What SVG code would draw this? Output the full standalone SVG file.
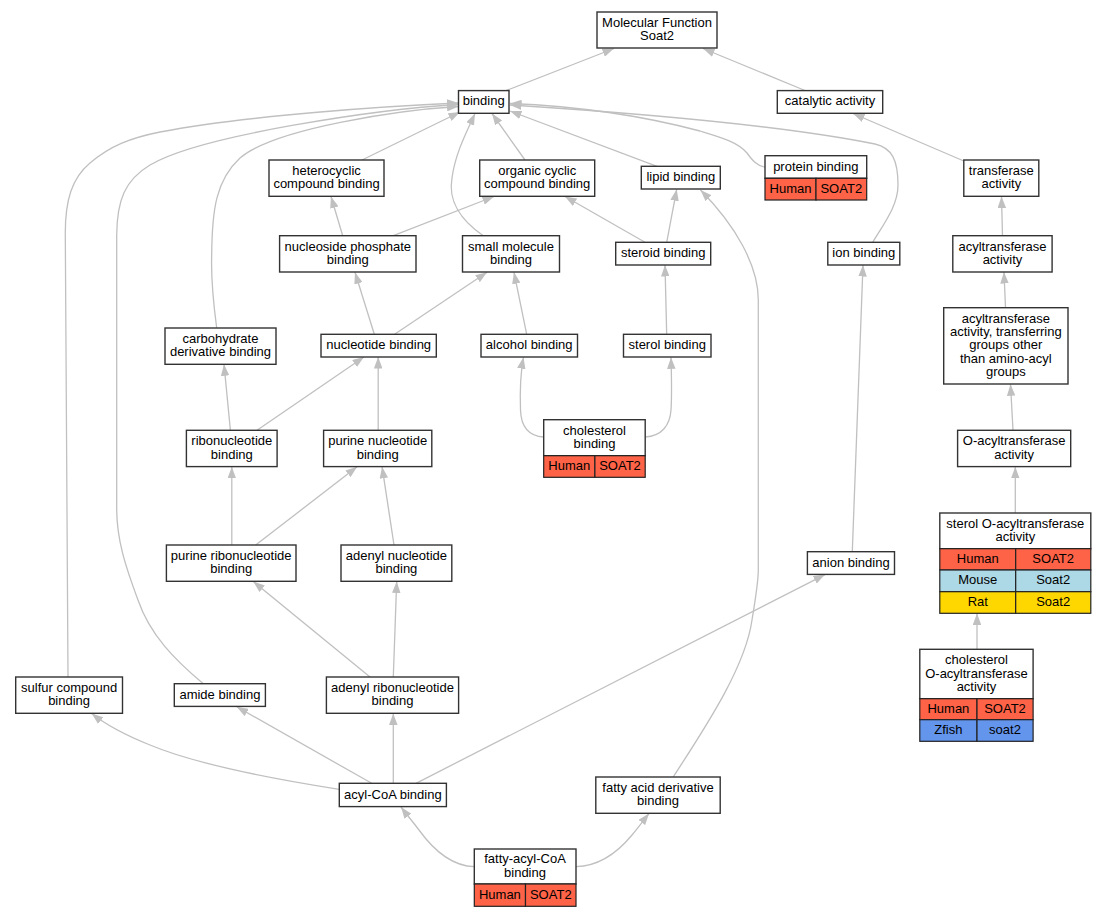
<svg xmlns="http://www.w3.org/2000/svg" width="1107" height="917" viewBox="0 0 1107 917">
<style>
text{font-family:"Liberation Sans",Arial,sans-serif;font-size:13px;text-anchor:middle;fill:#000}
.n rect{fill:#fff;stroke:#333;stroke-width:1.4}
.n rect.hu{fill:#ff6347;stroke:#222;stroke-width:1.2}
.n rect.mo{fill:#add8e6;stroke:#222;stroke-width:1.2}
.n rect.ra{fill:#ffd700;stroke:#222;stroke-width:1.2}
.n rect.zf{fill:#6495ed;stroke:#222;stroke-width:1.2}
#edges path{fill:none;stroke:#c0c0c0;stroke-width:1.3;marker-end:url(#arr)}
</style>
<defs>
<marker id="arr" viewBox="0 0 11.5 8.5" refX="11.5" refY="4.25" markerWidth="11.5" markerHeight="8.5" markerUnits="userSpaceOnUse" orient="auto">
<path d="M0,0 L11.5,4.25 L0,8.5 z" fill="#c0c0c0"/>
</marker>
</defs>
<rect width="1107" height="917" fill="#fff"/>
<g id="edges">
<path d="M505,91 L614,48.5"/>
<path d="M805,90.5 L703,48.5"/>
<path d="M362,160 L460,112"/>
<path d="M525,160 L492,113.5"/>
<path d="M657,166.3 L510,111"/>
<path d="M483.3,235.7 C460,220 448,200 452,178 C455,155 465,135 475,113.5"/>
<path d="M765,167 C757,166 752,160 747,153 C738,142 720,137 700,131 C640,115 570,106 510,103.5"/>
<path d="M872.7,242.3 C885,222 898,205 898,185 C898,160 892,148 875,144 C780,125 620,112 510,105"/>
<path d="M216.7,328 C213,300 211,275 211.7,255 C212,210 216,180 240,158 C275,128 400,110 458.5,106.5"/>
<path d="M203.3,683.7 C175,660 150,635 138,600 C125,565 117,540 116.7,510 L116.7,235 C117,200 125,180 150,165 C200,135 380,109 458.5,104.5"/>
<path d="M68,677 L65.3,235 C65,200 72,178 90,163 C110,146 130,138 160,132 C250,115 390,106 458.5,103"/>
<path d="M342.7,235.7 L331,196.5"/>
<path d="M393.3,235.7 L494,196.5"/>
<path d="M645,242.3 L565,196.5"/>
<path d="M666.7,242.3 L676.7,189.3"/>
<path d="M673.3,777 C700,735 745,670 752,620 C757,590 758.3,580 758.3,570 L758.3,300 C758.3,265 735,225 700.5,190"/>
<path d="M963.8,161 L853,113.5"/>
<path d="M1002.5,235.7 L1001.5,196.5"/>
<path d="M1005.5,307.7 L1004,272"/>
<path d="M1013,430.3 L1010.5,384.3"/>
<path d="M1015.3,513 L1015.3,466.8"/>
<path d="M977,649.3 L977,613.5"/>
<path d="M374.3,334.3 L355,272.3"/>
<path d="M394.6,334.3 L487,272.3"/>
<path d="M526.7,334.3 L514,272.3"/>
<path d="M666.7,334.3 L665,265"/>
<path d="M230.4,430.3 L224,364.3"/>
<path d="M257,430.3 L364,357"/>
<path d="M378.2,430.3 L378.2,357"/>
<path d="M543.7,437 C527,436 521,425 520.5,410 C520,395 520,375 523.5,357.3"/>
<path d="M645.2,437 C662,436 670,425 671,410 C672,395 671.5,375 671,357.3"/>
<path d="M231.8,545 L231.8,466.8"/>
<path d="M255.7,545 L357.1,466.8"/>
<path d="M394,545 L382.1,466.8"/>
<path d="M852.3,551.7 L863,265"/>
<path d="M370,677 L253.3,581.5"/>
<path d="M393.3,677 L396.7,581.5"/>
<path d="M339.3,789.3 C280,780 200,766 150,745 C125,735 105,724 91.7,713.5"/>
<path d="M371.7,783.3 L236.7,706.8"/>
<path d="M393.3,783.3 L393.3,713.5"/>
<path d="M416,783.3 L825,574.6"/>
<path d="M474.3,866.7 C450,866 432,848 419,830 C413,822 407,815 401,807"/>
<path d="M576,866.7 C600,866 618,852 632,835 C638,828 643,821 649,813.5"/>
</g>
<g id="mf" class="n"><rect x="597" y="12" width="120" height="36"/><text x="657" y="26.9">Molecular Function</text><text x="657" y="40.2">Soat2</text></g>
<g id="binding" class="n"><rect x="458.5" y="90.6" width="50.5" height="22.7"/><text x="483.7" y="105.4">binding</text></g>
<g id="catalytic" class="n"><rect x="777.3" y="90.6" width="105.4" height="22.7"/><text x="830" y="105.4">catalytic activity</text></g>
<g id="heterocyclic" class="n"><rect x="269" y="160" width="115" height="36.3"/><text x="326.5" y="175">heterocyclic</text><text x="326.5" y="188.3">compound binding</text></g>
<g id="organic" class="n"><rect x="479.7" y="160" width="115" height="36.3"/><text x="537.2" y="175">organic cyclic</text><text x="537.2" y="188.3">compound binding</text></g>
<g id="lipid" class="n"><rect x="641.3" y="166.3" width="79" height="22.7"/><text x="680.8" y="181.2">lipid binding</text></g>
<g id="protein" class="n"><rect x="765" y="155.7" width="101.7" height="22.6"/><rect class="hu" x="765" y="178.3" width="51" height="21.7"/><rect class="hu" x="816" y="178.3" width="50.7" height="21.7"/><text x="815.8" y="170.5">protein binding</text><text x="790.5" y="192.7">Human</text><text x="841.3" y="192.7">SOAT2</text></g>
<g id="transferase" class="n"><rect x="963.8" y="160" width="75" height="36.3"/><text x="1001.3" y="175">transferase</text><text x="1001.3" y="188.3">activity</text></g>
<g id="nucleoside" class="n"><rect x="279.6" y="235.7" width="136.4" height="36.3"/><text x="347.8" y="250.7">nucleoside phosphate</text><text x="347.8" y="264">binding</text></g>
<g id="smallmol" class="n"><rect x="462.5" y="235.7" width="97" height="36.3"/><text x="511" y="250.7">small molecule</text><text x="511" y="264">binding</text></g>
<g id="steroid" class="n"><rect x="615.7" y="242.3" width="95" height="22.7"/><text x="663.2" y="257.1">steroid binding</text></g>
<g id="ion" class="n"><rect x="827.8" y="242.3" width="72" height="22.7"/><text x="863.8" y="257.1">ion binding</text></g>
<g id="acyltransferase" class="n"><rect x="952.8" y="235.7" width="99.3" height="36.3"/><text x="1002.5" y="250.7">acyltransferase</text><text x="1002.5" y="264">activity</text></g>
<g id="acylother" class="n"><rect x="943.7" y="307.7" width="124.3" height="76.3"/><text x="1005.8" y="322.7">acyltransferase</text><text x="1005.8" y="336">activity, transferring</text><text x="1005.8" y="349.3">groups other</text><text x="1005.8" y="362.6">than amino-acyl</text><text x="1005.8" y="375.9">groups</text></g>
<g id="carbohydrate" class="n"><rect x="165" y="328" width="111" height="36.3"/><text x="220.5" y="343">carbohydrate</text><text x="220.5" y="356.3">derivative binding</text></g>
<g id="nucleotide" class="n"><rect x="321" y="334.3" width="115.3" height="22.7"/><text x="378.7" y="349.2">nucleotide binding</text></g>
<g id="alcohol" class="n"><rect x="481" y="334.3" width="96.5" height="22.7"/><text x="529.2" y="349.2">alcohol binding</text></g>
<g id="sterol" class="n"><rect x="623.5" y="334.3" width="87.5" height="22.7"/><text x="667.2" y="349.2">sterol binding</text></g>
<g id="ribonucleotide" class="n"><rect x="186.4" y="430.3" width="90.7" height="36.3"/><text x="231.8" y="445.3">ribonucleotide</text><text x="231.8" y="458.6">binding</text></g>
<g id="purinenucl" class="n"><rect x="323.6" y="430.3" width="108.2" height="36.3"/><text x="377.7" y="445.3">purine nucleotide</text><text x="377.7" y="458.6">binding</text></g>
<g id="cholesterol" class="n"><rect x="543.7" y="419.7" width="101.5" height="36"/><rect class="hu" x="543.7" y="455.7" width="51.2" height="21.6"/><rect class="hu" x="594.9" y="455.7" width="50.3" height="21.6"/><text x="594.5" y="434.5">cholesterol</text><text x="594.5" y="447.8">binding</text><text x="569.3" y="470">Human</text><text x="620" y="470">SOAT2</text></g>
<g id="oacyl" class="n"><rect x="957.6" y="430.3" width="113.1" height="36.3"/><text x="1014.1" y="445.3">O-acyltransferase</text><text x="1014.1" y="458.6">activity</text></g>
<g id="purineribo" class="n"><rect x="166.4" y="545" width="129.6" height="36.3"/><text x="231.2" y="560">purine ribonucleotide</text><text x="231.2" y="573.3">binding</text></g>
<g id="adenylnucl" class="n"><rect x="341" y="545" width="110.8" height="36.3"/><text x="396.4" y="560">adenyl nucleotide</text><text x="396.4" y="573.3">binding</text></g>
<g id="anion" class="n"><rect x="807.4" y="551.7" width="87.1" height="22.7"/><text x="851" y="566.5">anion binding</text></g>
<g id="steroloacyl" class="n"><rect x="939.8" y="513" width="151" height="35.7"/><rect class="hu" x="939.8" y="548.7" width="75.9" height="21.3"/><rect class="hu" x="1015.7" y="548.7" width="75.1" height="21.3"/><rect class="mo" x="939.8" y="570" width="75.9" height="21.7"/><rect class="mo" x="1015.7" y="570" width="75.1" height="21.7"/><rect class="ra" x="939.8" y="591.7" width="75.9" height="21.6"/><rect class="ra" x="1015.7" y="591.7" width="75.1" height="21.6"/><text x="1015.3" y="527.7">sterol O-acyltransferase</text><text x="1015.3" y="541">activity</text><text x="977.8" y="562.9">Human</text><text x="1053.2" y="562.9">SOAT2</text><text x="977.8" y="584.4">Mouse</text><text x="1053.2" y="584.4">Soat2</text><text x="977.8" y="606">Rat</text><text x="1053.2" y="606">Soat2</text></g>
<g id="choloacyl" class="n"><rect x="919.8" y="649.3" width="113.3" height="49.4"/><rect class="hu" x="919.8" y="698.7" width="57.2" height="21"/><rect class="hu" x="977" y="698.7" width="56.1" height="21"/><rect class="zf" x="919.8" y="719.7" width="57.2" height="21.6"/><rect class="zf" x="977" y="719.7" width="56.1" height="21.6"/><text x="976.5" y="664.2">cholesterol</text><text x="976.5" y="677.5">O-acyltransferase</text><text x="976.5" y="690.8">activity</text><text x="948.4" y="712.7">Human</text><text x="1005" y="712.7">SOAT2</text><text x="948.4" y="734">Zfish</text><text x="1005" y="734">soat2</text></g>
<g id="sulfur" class="n"><rect x="15.7" y="677" width="106.8" height="36.3"/><text x="69.1" y="692">sulfur compound</text><text x="69.1" y="705.3">binding</text></g>
<g id="amide" class="n"><rect x="174.3" y="683.7" width="91.1" height="22.7"/><text x="219.9" y="698.5">amide binding</text></g>
<g id="adenylribo" class="n"><rect x="326.4" y="677" width="132.2" height="36.3"/><text x="392.5" y="692">adenyl ribonucleotide</text><text x="392.5" y="705.3">binding</text></g>
<g id="acylcoa" class="n"><rect x="339.3" y="783.3" width="107.1" height="23.3"/><text x="392.9" y="798.5">acyl-CoA binding</text></g>
<g id="fattyacid" class="n"><rect x="595.8" y="777" width="124.4" height="36.3"/><text x="658" y="792">fatty acid derivative</text><text x="658" y="805.3">binding</text></g>
<g id="fattyacylcoa" class="n"><rect x="474.3" y="849" width="101.7" height="35"/><rect class="hu" x="474.3" y="884" width="51.2" height="22.3"/><rect class="hu" x="525.5" y="884" width="50.5" height="22.3"/><text x="525" y="863.3">fatty-acyl-CoA</text><text x="525" y="876.6">binding</text><text x="499.9" y="898.7">Human</text><text x="550.8" y="898.7">SOAT2</text></g>
</svg>
